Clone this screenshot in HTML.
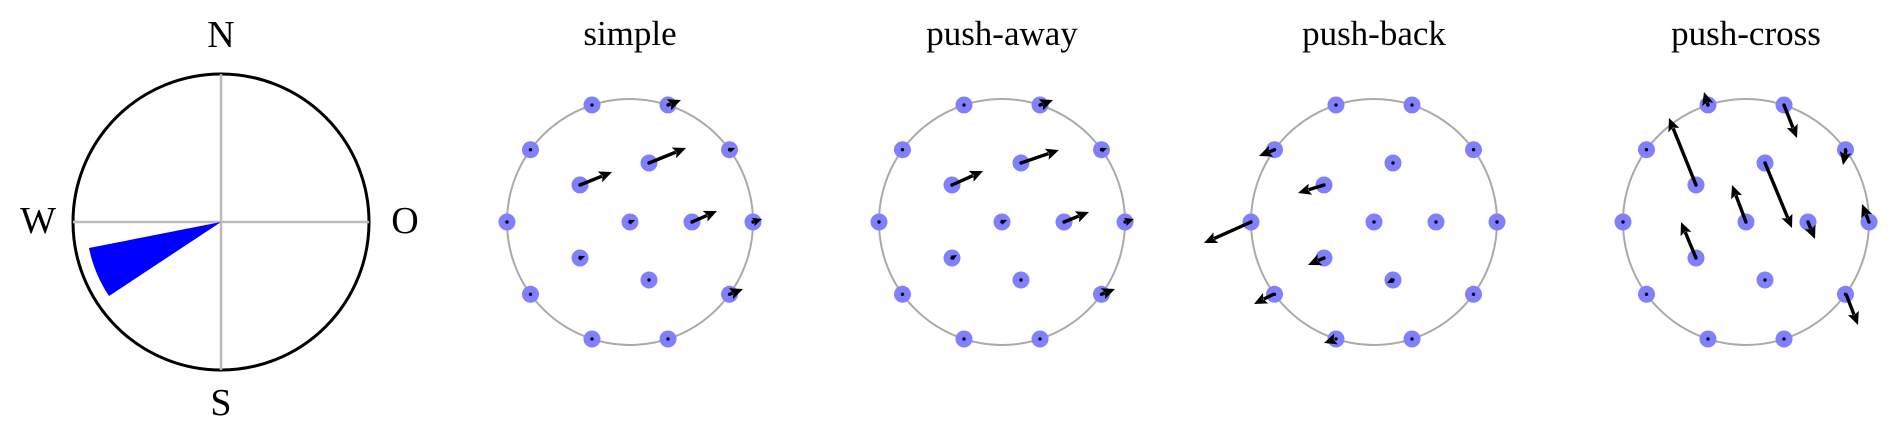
<!DOCTYPE html>
<html><head><meta charset="utf-8"><style>
html,body{margin:0;padding:0;background:#fff;width:1897px;height:435px;overflow:hidden}
svg text{font-family:"Liberation Serif",serif;fill:#000}
</style></head><body>
<svg id="s" width="1897" height="435" viewBox="0 0 1897 435" xmlns="http://www.w3.org/2000/svg">
<circle cx="221" cy="222" r="148" fill="none" stroke="#000" stroke-width="3"/>
<line x1="221" y1="74" x2="221" y2="370" stroke="#bbb" stroke-width="2.5"/>
<line x1="73" y1="222" x2="369" y2="222" stroke="#bbb" stroke-width="2.5"/>
<path d="M221,222 L89,248 A134,134 0 0 0 109,296 Z" fill="#0000ff"/>
<text x="221" y="47" font-size="38" text-anchor="middle">N</text>
<text x="38" y="233" font-size="38" text-anchor="middle">W</text>
<text x="405" y="233" font-size="38" text-anchor="middle">O</text>
<text x="221" y="415" font-size="38" text-anchor="middle">S</text>
<text x="630" y="45" font-size="35" text-anchor="middle">simple</text>
<text x="1002" y="45" font-size="35" text-anchor="middle">push-away</text>
<text x="1374" y="45" font-size="35" text-anchor="middle">push-back</text>
<text x="1746" y="45" font-size="35" text-anchor="middle">push-cross</text>
<g id="g"></g>
</svg>
<script>
var g=document.getElementById('g'),h='';
var pts=[];
for(var k=0;k<10;k++){var a=k*36*Math.PI/180;pts.push([123*Math.cos(a),-123*Math.sin(a)]);}
var inner=[[0,0],[62,0],[19,-59],[-50,-37],[-50,36],[19,58]];
pts=pts.concat(inner);
function P(x,y){return x.toFixed(1)+','+y.toFixed(1);}
function arrow(x,y,dx,dy){
 var L=Math.hypot(dx,dy);if(L<1)return '';
 var ux=dx/L,uy=dy/L,hl=Math.min(13,Math.max(L,6)),hw=hl*0.45;
 var tx=x+dx,ty=y+dy,bx=tx-ux*hl,by=ty-uy*hl;
 var s='';
 if(L>hl) s+='<line x1="'+x+'" y1="'+y+'" x2="'+(bx+ux*2)+'" y2="'+(by+uy*2)+'" stroke="#000" stroke-width="3.4"/>';
 s+='<polygon points="'+P(tx,ty)+' '+P(bx-uy*hw,by+ux*hw)+' '+P(bx+ux*hl*0.2,by+uy*hl*0.2)+' '+P(bx+uy*hw,by-ux*hw)+'" fill="#000"/>';
 return s;
}
function panel(cx,arrows){
 h+='<circle cx="'+cx+'" cy="222" r="123" fill="none" stroke="#aaa" stroke-width="2"/>';
 pts.forEach(function(p){h+='<circle cx="'+(cx+p[0])+'" cy="'+(222+p[1])+'" r="8.5" fill="#8080ff"/><circle cx="'+(cx+p[0])+'" cy="'+(222+p[1])+'" r="1.7" fill="#000"/>';});
 arrows.forEach(function(a){h+=arrow(cx+a[0],222+a[1],a[2],a[3]);});
}
var simple=[[-50,-37,32,-13],[19,-59,37,-15],[62,0,25,-11],[0,0,5,-2],[-50,36,5,-2],
 [38,-117,13,-5],[100,-72,5,-2],[123,0,9,-3],[100,72,13,-5]];
panel(630,simple);
var away=[[-50,-37,31,-14],[19,-59,38,-13],[62,0,25,-10],[0,0,5,-2],[-50,36,5,-3],
 [38,-117,13,-5],[100,-72,5,-2],[123,0,9,-3],[100,72,13,-5]];
panel(1002,away);
var back=[[-100,-72,-15,6],[-50,-37,-26,8],[-123,0,-47,21],[-50,36,-16,7],[19,58,-6,3],[-100,72,-20,10],[-38,117,-12,4]];
panel(1374,back);
var cross=[[-38,-117,-4,-13],[38,-117,13,33],[-50,-37,-27,-67],[19,-59,27,65],[100,-72,-3,15],[0,0,-14,-37],
 [62,0,7,17],[123,0,-7,-18],[-50,36,-15,-36],[100,72,12,31]];
panel(1746,cross);
g.innerHTML=h;
</script>
</body></html>
